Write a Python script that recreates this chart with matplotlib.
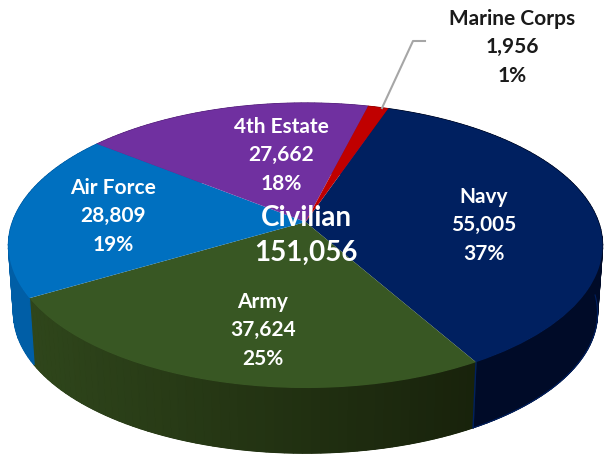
import numpy as np
import matplotlib
matplotlib.use("Agg")
import matplotlib.pyplot as plt
from matplotlib.transforms import Transform

labels = ["Navy", "Army", "Air Force", "4th Estate", "Marine Corps"]
values = [55005, 37624, 28809, 27662, 1956]
percents = ["37%", "25%", "19%", "18%", "1%"]
colors = ["#002060", "#385723", "#0070c0", "#7030a0", "#c00000"]
wall_left = ["#000b28", "#2f461b", "#005ea6", "#5a2680", "#900000"]
wall_right = ["#000b28", "#18220b", "#005ea6", "#5a2680", "#900000"]
center_title = "Civilian"
center_total = "151,056"

# pixel positions of the labels
label_x = [484, 263, 113, 281, 512]
label_y = [197, 302, 188, 127, 19]

start_angle = 71.0
cx, cy = 305.5, 222
k = 0.165
a = 138.6
b = 293
depth = 68
shrink = 0.983


def project(u, v):
    w = 1 + k * v
    return cx + b * u / w, cy - a * v / w


class Perspective(Transform):
    input_dims = 2
    output_dims = 2

    def transform_non_affine(self, values):
        x, y = project(values[:, 0], values[:, 1])
        return np.column_stack([x, y])


fig = plt.figure(figsize=(6.04, 4.54), dpi=100)
ax = fig.add_axes([0, 0, 1, 1])

wedges, _ = ax.pie(values, colors=colors, startangle=start_angle, counterclock=False,
                   wedgeprops=dict(linewidth=0, zorder=3))
ax.set_aspect("auto")
ax.set_xlim(0, 604)
ax.set_ylim(454, 0)
ax.axis("off")

persp = Perspective()
for wedge in wedges:
    wedge.set_transform(persp + ax.transData)
    wedge.set_clip_on(False)

# side wall: one base shape per slice, thin strips on top for the shading
for wedge, c1, c2 in zip(wedges, wall_left, wall_right):
    t1, t2 = wedge.theta1, wedge.theta2
    angles = np.radians(np.linspace(t1, t2, max(int((t2 - t1) / 1.5), 2) + 1))
    rgb1 = np.array(matplotlib.colors.to_rgb(c1))
    rgb2 = np.array(matplotlib.colors.to_rgb(c2))
    tx, ty = project(np.cos(angles), np.sin(angles))
    bx = cx + (tx - cx) * shrink
    by = cy + (ty - cy) * shrink + depth
    base = (rgb1 + rgb2) / 2
    ax.fill(np.r_[tx, bx[::-1]], np.r_[ty, by[::-1]], color=base, lw=0.5, zorder=1.5)
    for i in range(len(angles) - 1):
        f = np.clip((tx[i:i + 2].mean() - 30) / 450, 0, 1)
        col = rgb1 + (rgb2 - rgb1) * f
        ax.fill([tx[i], tx[i + 1], bx[i + 1], bx[i]], [ty[i], ty[i + 1], by[i + 1], by[i]],
                color=col, lw=0.9, zorder=2)

# thin blue edge of the navy wall
navy_angles = np.radians(np.linspace(wedges[0].theta1, wedges[0].theta1 + 58, 40))
nx, ny = project(np.cos(navy_angles), np.sin(navy_angles))
ax.plot(cx + (nx - cx) * shrink, cy + (ny - cy) * shrink + depth, color="#002060", lw=0.8, zorder=2.5)
ax.plot([nx[0], cx + (nx[0] - cx) * shrink], [ny[0], cy + (ny[0] - cy) * shrink + depth],
        color="#002060", lw=1, zorder=2.5)

# leader line for the small slice
ax.plot([382, 413, 425], [108, 41, 41], color="#a6a6a6", lw=1.5, zorder=4)

font = "Lato"
for i in range(len(labels)):
    col = "#1a1a1a" if labels[i] == "Marine Corps" else "white"
    lines = [labels[i], f"{values[i]:,}", percents[i]]
    for j, line in enumerate(lines):
        ax.text(label_x[i], label_y[i] + j * 28.3, line, color=col, fontsize=15, fontweight="bold",
                family=font, ha="center", va="center", zorder=5)

ax.text(306, 218, center_title, color="white", fontsize=20, fontweight="bold", family=font,
        ha="center", va="center", zorder=5)
ax.text(306, 253, center_total, color="white", fontsize=20, fontweight="bold", family=font,
        ha="center", va="center", zorder=5)

fig.savefig("out.png", dpi=100)
